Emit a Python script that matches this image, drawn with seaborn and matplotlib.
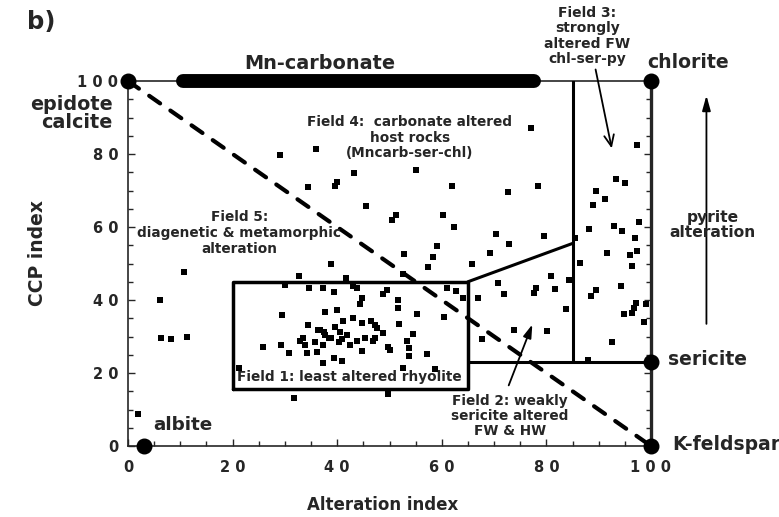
import matplotlib
matplotlib.use("Agg")
import matplotlib.pyplot as plt
import seaborn as sns
import pandas as pd
from matplotlib.ticker import MultipleLocator

# ---------------- data ----------------
upper_x = [29, 36, 43.2, 55.1, 34.5, 39.9, 39.6, 62, 45.6, 51.2, 50.5, 60.3, 62.4, 59, 52.7, 58.3,
           38.8, 65.8, 57.4, 77, 72.6, 78.3, 70.3, 72.8, 79.5, 69.2, 85.5, 52.6]
upper_y = [79.8, 81.3, 74.8, 75.5, 71, 72.2, 71.2, 71.2, 65.8, 63.2, 61.8, 63.2, 60, 54.8, 52.5, 51.9,
           50, 49.9, 49, 87.2, 69.6, 71.2, 58.1, 55.3, 57.6, 53, 57, 47.1]

field3_x = [97.3, 93.4, 95, 89.4, 91.2, 89, 88.1, 93, 94.4, 97.8, 97, 97.3, 96, 91.6, 86.5, 96.3,
            94.2, 89.4, 88.5, 97.2, 96.7, 96.4, 94.8, 99, 98.6, 92.6, 88]
field3_y = [82.5, 73.2, 72, 70, 67.7, 66.1, 59.5, 60.3, 58.9, 61.3, 57, 53.4, 52.3, 52.8, 50.2, 49.4,
            43.8, 42.8, 41.2, 39.3, 37.9, 36.5, 36.3, 39, 34.1, 28.4, 23.5]

field2_x = [80.9, 84.3, 70.8, 71.9, 81.6, 78, 77.6, 67, 83.7, 67.6, 73.9, 80.1]
field2_y = [46.6, 45.5, 44.6, 41.6, 42.9, 43.4, 41.8, 40.6, 37.4, 29.3, 31.8, 31.6]

field5_x = [10.8, 6.1, 6.4, 8.2, 11.2, 2]
field5_y = [47.8, 40, 29.5, 29.3, 29.8, 8.8]

field1_x = [32.7, 30, 29.5, 25.9, 29.3, 30.7, 21.2, 31.8, 32.9,
            41.6, 34.7, 37.3, 39.4, 43, 43.7, 44.7, 44.4, 48.7, 49.6, 51.7, 51.6, 55.3, 60.4, 60.9, 62.8, 64.1,
            37.7, 39.9, 34.5, 39.6, 41.2, 43.1, 44.7, 46.4, 47.2, 47.7, 51.9, 48.8,
            36.4, 37.7, 38.9, 40.5, 40.9, 41.8, 36.7, 37.5,
            33.5, 33.8, 35.8, 37.3, 38.5, 40.4,
            42.4, 43.7, 45.3, 46.8, 47.2,
            54.5, 53.4, 53.8, 53.8, 49.8, 50, 44.7, 57.1,
            34.2, 36.1, 37.2, 39.4, 41, 52.6, 58.7, 49.8]
field1_y = [46.7, 44.1, 35.9, 27, 27.7, 25.6, 21.3, 13.2, 28.8,
            46.1, 43.2, 43.2, 42.3, 43.9, 43.4, 40.5, 38.8, 41.6, 42.8, 40, 37.9, 36.2, 35.4, 43.2, 42.5, 40.5,
            36.6, 37.3, 33.2, 32.7, 34.2, 35, 33.6, 34.2, 33.2, 32.2, 33.3, 30.9,
            31.8, 30.4, 29.5, 31.3, 29.3, 30.4, 31.8, 31.3,
            29.5, 27.7, 28.4, 27.7, 29.7, 28.4,
            27.7, 28.8, 29.5, 28.8, 29.7,
            30.6, 28.8, 26.8, 24.7, 27.2, 26.3, 26, 25.1,
            25.4, 25.8, 22.7, 24, 23.3, 21.3, 21.1, 14.2]

# end-member mineral poles
pole_x = [0, 100, 100, 100, 3]
pole_y = [100, 100, 23, 0, 0]

tick_vals = [0, 20, 40, 60, 80, 100]
tick_labels = ["0", "2 0", "4 0", "6 0", "8 0", "1 0 0"]

# ---------------- figure ----------------
sns.set_style("ticks")
plt.rcParams["font.family"] = ["DejaVu Sans"]
plt.rcParams["font.weight"] = "bold"

fig = plt.figure(figsize=(7.79, 5.17), dpi=100)
ax = fig.add_axes([128 / 779, 1 - 446 / 517, 523 / 779, 365 / 517])

df = pd.DataFrame({
    "x": upper_x + field3_x + field2_x + field5_x + field1_x,
    "y": upper_y + field3_y + field2_y + field5_y + field1_y,
})
sns.scatterplot(data=df, x="x", y="y", marker="s", color="black", s=15,
                linewidth=0, ax=ax, zorder=4, clip_on=False)

# diagonal dashed line
sns.lineplot(x=[0, 100], y=[100, 0], ax=ax, color="black", lw=3.0,
             dashes=False, zorder=3)
ax.lines[-1].set_dashes([3.2, 3.0])
ax.lines[-1].set_dash_capstyle("round")

lw_f = 2.2
# Field 1 box
ax.plot([20, 65, 65, 20, 20], [15.5, 15.5, 45, 45, 15.5], color="black", lw=2.5, zorder=3)
# Field 2 / 3 boundaries
ax.plot([65, 85], [45, 55.5], color="black", lw=lw_f, zorder=3)
ax.plot([85, 85], [23, 100], color="black", lw=lw_f, zorder=3)
ax.plot([65, 100], [23, 23], color="black", lw=lw_f, zorder=3)

# Mn-carbonate bar
ax.plot([10.6, 77.6], [100, 100], color="black", lw=10, solid_capstyle="round",
        zorder=5, clip_on=False)

# mineral pole circles
ax.scatter(pole_x, pole_y, s=110, color="black", zorder=6, clip_on=False)

ax.set_xlim(0, 100)
ax.set_ylim(0, 100)
ax.set_xticks(tick_vals)
ax.set_xticklabels(tick_labels)
ax.set_yticks(tick_vals)
ax.set_yticklabels(tick_labels)
ax.xaxis.set_minor_locator(MultipleLocator(5))
ax.yaxis.set_minor_locator(MultipleLocator(5))
ax.tick_params(which="both", direction="in", right=True, top=False, labelsize=10.5,
               width=1.0)
ax.tick_params(axis="x", pad=10)
ax.tick_params(axis="y", pad=7)
ax.tick_params(which="major", length=5)
ax.tick_params(which="minor", length=3.5)
for lab in ax.get_xticklabels() + ax.get_yticklabels():
    lab.set_fontweight("bold")

for s in ["left", "bottom", "top"]:
    ax.spines[s].set_linewidth(1.2)
ax.spines["right"].set_linewidth(2.4)

ax.set_xlabel("Alteration index", fontsize=12, fontweight="bold")
ax.set_ylabel("CCP index", fontsize=13.5, fontweight="bold")
ax.xaxis.set_label_coords(0.487, -0.137)
ax.yaxis.set_label_coords(-0.155, 0.529)

# ---------------- annotations ----------------
fs = 9.8
ax.text(36.7, 104.9, "Mn-carbonate", fontsize=13.9, fontweight="bold", ha="center", va="center")
ax.text(99.2, 105.0, "chlorite", fontsize=13.6, fontweight="bold", ha="left", va="center")
ax.text(-3.0, 91.0, "epidote\ncalcite", fontsize=13.8, fontweight="bold", ha="right", va="center",
        multialignment="right", linespacing=0.95)
ax.text(4.8, 5.7, "albite", fontsize=13.2, fontweight="bold", ha="left", va="center")
ax.text(103.3, 23.6, "sericite", fontsize=13.5, fontweight="bold", ha="left", va="center")
ax.text(104.0, 0.3, "K-feldspar", fontsize=13.5, fontweight="bold", ha="left", va="center")

ax.annotate("", xy=(110.6, 96.8), xytext=(110.6, 32.7), xycoords="data",
            arrowprops=dict(arrowstyle="-|>,head_length=0.9,head_width=0.25", color="black", lw=1.3),
            annotation_clip=False)
ax.text(111.8, 60.5, "pyrite\nalteration", fontsize=11.2, fontweight="bold", ha="center", va="center",
        linespacing=0.95, clip_on=False)

ax.text(87.8, 112.3, "Field 3:\nstrongly\naltered FW\nchl-ser-py", fontsize=10, fontweight="bold",
        ha="center", va="center", linespacing=1.12)
ax.annotate("", xy=(92.6, 80.8), xytext=(89.3, 103.9),
            arrowprops=dict(arrowstyle="->,head_length=0.8,head_width=0.35", color="black", lw=1.3),
            annotation_clip=False)

ax.text(53.9, 84.5, "Field 4:  carbonate altered\nhost rocks\n(Mncarb-ser-chl)", fontsize=fs,
        fontweight="bold", ha="center", va="center", linespacing=1.15)
ax.text(21.3, 58.4, "Field 5:\ndiagenetic & metamorphic\nalteration", fontsize=fs,
        fontweight="bold", ha="center", va="center", linespacing=1.2)
ax.text(20.9, 18.8, "Field 1: least altered rhyolite", fontsize=fs, fontweight="bold",
        ha="left", va="center")
ax.text(73.0, 8.2, "Field 2: weakly\nsericite altered\nFW & HW", fontsize=fs, fontweight="bold",
        ha="center", va="center", linespacing=1.1)
ax.annotate("", xy=(77.5, 34.0), xytext=(72.6, 15.9),
            arrowprops=dict(arrowstyle="-|>,head_length=0.8,head_width=0.25", color="black", lw=1.3),
            annotation_clip=False)

fig.text(27 / 779, 1 - 22 / 517, "b)", fontsize=17.5, fontweight="bold", ha="left", va="center")

fig.savefig("out.png", dpi=100)
